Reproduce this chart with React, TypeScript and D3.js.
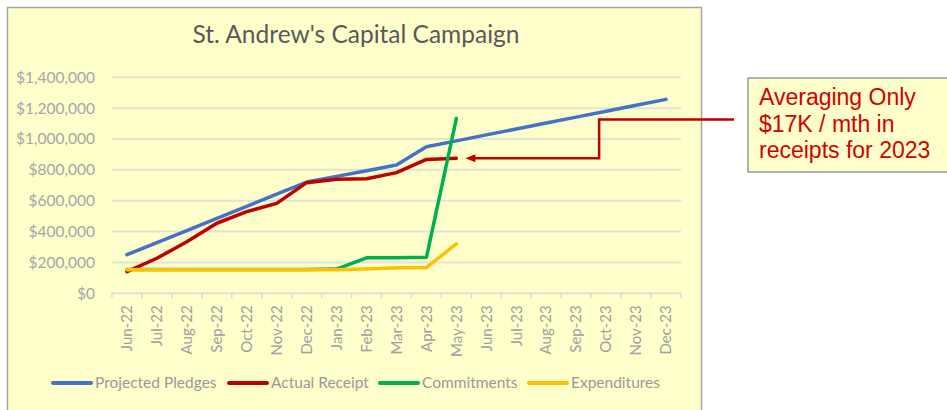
import React from "react";
import * as d3 from "d3";

const months = [
  "Jun-22", "Jul-22", "Aug-22", "Sep-22", "Oct-22", "Nov-22", "Dec-22",
  "Jan-23", "Feb-23", "Mar-23", "Apr-23", "May-23", "Jun-23", "Jul-23",
  "Aug-23", "Sep-23", "Oct-23", "Nov-23", "Dec-23",
];

const projectedPledges = [
  250000, 329000, 407000, 486000, 564000, 643000, 721000, 758000, 794000,
  831000, 950000, 988000, 1027000, 1065000, 1104000, 1142000, 1180000,
  1219000, 1257000,
];
const actualReceipt = [
  140000, 227000, 334000, 454000, 529000, 583000, 717000, 739000, 742000,
  782000, 868000, 875000,
];
const commitments = [
  155000, 155000, 155000, 155000, 155000, 155000, 155000, 157000, 230000,
  230000, 233000, 1134000,
];
const expenditures = [
  152000, 152000, 152000, 152000, 152000, 152000, 152000, 152000, 157000,
  166000, 168000, 320000,
];

const seriesNames = ["Projected Pledges", "Actual Receipt", "Commitments", "Expenditures"];
const seriesColors = ["#4472c4", "#c00000", "#00b050", "#ffc000"];
const yTicks = [0, 200000, 400000, 600000, 800000, 1000000, 1200000, 1400000];

const title = "St. Andrew's Capital Campaign";
const noteLines = ["Averaging Only", "$17K / mth in", "receipts for 2023"];

const FONT = "Lato, 'Open Sans', sans-serif";

export default function App() {
  const W = 947;
  const H = 410;
  const x = d3.scaleBand<string>().domain(months).range([112, 681]).padding(0);
  const y = d3.scaleLinear().domain([0, 1400000]).range([293.3, 77.3]);
  const cx = (m: string) => (x(m) as number) + x.bandwidth() / 2;
  const line = d3
    .line<number>()
    .x((_, i) => cx(months[i]))
    .y((d) => y(d));
  const allSeries = [projectedPledges, actualReceipt, commitments, expenditures];
  const fmt = (v: number) => "$" + d3.format(",")(v);

  const legendX = [53, 229, 380, 529];

  // annotation arrow anchored on the last receipt value
  const lastIdx = actualReceipt.length - 1;
  const tipX = cx(months[lastIdx]) + 9;
  const tipY = y(actualReceipt[lastIdx]);
  const elbowX = cx("Oct-23") - 7;
  const topY = y(1126000);
  const boxX = 748;
  const boxY = 78;

  return (
    <div style={{ position: "fixed", left: 0, top: 0, width: W, height: H, background: "#fff" }}>
      <svg width={W} height={H} style={{ display: "block" }}>
        <rect x={7.5} y={7.5} width={694} height={430} fill="#ffffcc" stroke="#a6a6a6" strokeWidth={1.5} />
        <text x={356} y={43} textAnchor="middle" fontFamily={FONT} fontSize={24.5} fill="#595959">
          {title}
        </text>
        {yTicks.map((t) => (
          <g key={t}>
            <line x1={112} x2={681} y1={y(t)} y2={y(t)} stroke="#e3e3d3" strokeWidth={2} />
            <text x={95} y={y(t)} dy="0.35em" textAnchor="end" fontFamily={FONT} fontSize={15.5} fill="#a6a6a6">
              {fmt(t)}
            </text>
          </g>
        ))}
        {months.map((m, i) => (
          <line key={"t" + i} x1={x(m)} x2={x(m)} y1={y(0)} y2={y(0) + 5} stroke="#d9d9d9" strokeWidth={1.5} />
        ))}
        <line x1={681} x2={681} y1={y(0)} y2={y(0) + 5} stroke="#d9d9d9" strokeWidth={1.5} />
        {months.map((m) => (
          <text
            key={m}
            transform={`translate(${cx(m)},${y(0) + 12}) rotate(-90)`}
            textAnchor="end"
            dy="0.35em"
            fontFamily={FONT}
            fontSize={15}
            fill="#a0a0a0"
          >
            {m}
          </text>
        ))}
        {allSeries.map((s, k) => (
          <path
            key={k}
            d={line(s) as string}
            fill="none"
            stroke={seriesColors[k]}
            strokeWidth={3.5}
            strokeLinejoin="round"
            strokeLinecap="round"
          />
        ))}
        {seriesNames.map((n, k) => (
          <g key={n}>
            <line x1={legendX[k]} x2={legendX[k] + 38} y1={383} y2={383} stroke={seriesColors[k]} strokeWidth={4} strokeLinecap="round" />
            <text x={legendX[k] + 42} y={383} dy="0.35em" fontFamily={FONT} fontSize={15.5} fill="#999999">
              {n}
            </text>
          </g>
        ))}
        <path
          d={`M${tipX + 8},${tipY} L${elbowX},${tipY} L${elbowX},${topY} L${boxX - 14},${topY}`}
          fill="none"
          stroke="#c00000"
          strokeWidth={2.5}
        />
        <path d={`M${tipX},${tipY} L${tipX + 10},${tipY - 4} L${tipX + 10},${tipY + 4} Z`} fill="#c00000" />
        <rect x={boxX} y={boxY} width={210} height={94} fill="#ffffcc" stroke="#808080" strokeWidth={1.2} />
        {noteLines.map((l, i) => (
          <text key={i} x={759} y={105 + i * 26.5} fontFamily="'Liberation Sans', Arial, sans-serif" fontSize={23} fill="#d40000">
            {l}
          </text>
        ))}
      </svg>
    </div>
  );
}
